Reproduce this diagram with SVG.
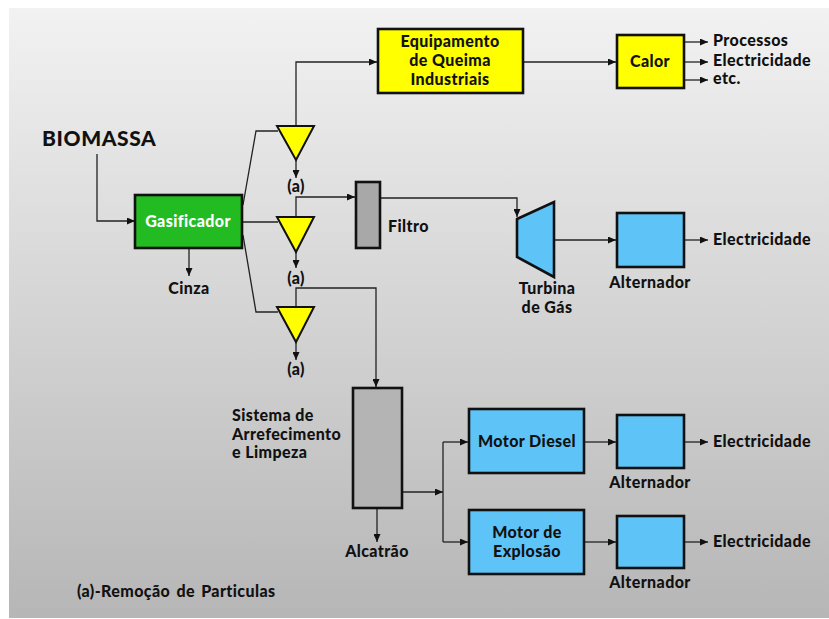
<svg xmlns="http://www.w3.org/2000/svg" width="829" height="619" viewBox="0 0 829 619">
<defs>
<linearGradient id="bg" x1="0" y1="0" x2="0" y2="1">
<stop offset="0" stop-color="#f2f2f2"/>
<stop offset="1" stop-color="#b6b6b6"/>
</linearGradient>
<marker id="arr" markerUnits="userSpaceOnUse" markerWidth="8" markerHeight="7" refX="8" refY="3.5" orient="auto">
<path d="M0,0 L8,3.5 L0,7 z" fill="#111"/>
</marker>
</defs>
<style>
text{font-family:Lato,"Open Sans","DejaVu Sans",sans-serif;font-weight:900;fill:#111;font-size:16px;letter-spacing:0.4px}
.c{text-anchor:middle}
.box{stroke:#111;stroke-width:2.6}
.yel{fill:#ffff00}
.blu{fill:#5ec3f7}
.gry{fill:#a8a8a8}
.tri{fill:#ffff00;stroke:#111;stroke-width:2}
#connectors path{fill:none;stroke:#222;stroke-width:1.3}
.a{marker-end:url(#arr)}
</style>
<rect x="9" y="8" width="820" height="610" fill="url(#bg)"/>

<g id="connectors">
<path class="a" d="M97,154 V221 H135"/>
<path class="a" d="M189,248 V276"/>
<path d="M243,205 L256,131 H278"/>
<path d="M242,222 H278"/>
<path d="M243,235 L256,312 H278"/>
<path class="a" d="M296,159 V178"/>
<path class="a" d="M296,251 V268"/>
<path class="a" d="M296,341 V360"/>
<path class="a" d="M296,126 V62 H377"/>
<path class="a" d="M296,217 V197 H355"/>
<path class="a" d="M296,307 V288 H376 V387"/>
<path class="a" d="M523,62 H616"/>
<path class="a" d="M684,42 H708"/>
<path class="a" d="M684,62 H708"/>
<path class="a" d="M684,80 H708"/>
<path class="a" d="M380,198 H517 V217"/>
<path class="a" d="M554,240 H616"/>
<path class="a" d="M684,240 H708"/>
<path class="a" d="M402,492 H443"/>
<path d="M443,442 V542"/>
<path class="a" d="M443,442 H468"/>
<path class="a" d="M443,542 H468"/>
<path class="a" d="M377,508 V542"/>
<path class="a" d="M584,442 H616"/>
<path class="a" d="M584,542 H616"/>
<path class="a" d="M684,442 H708"/>
<path class="a" d="M684,542 H708"/>
</g>

<g id="biomassa"><text x="42" y="146" style="font-size:21px;letter-spacing:0.6px">BIOMASSA</text></g>

<g id="gasificador">
<rect class="box" x="135" y="195" width="107" height="53" fill="#22bb22"/>
<text class="c" x="188" y="227" style="fill:#ffffff">Gasificador</text>
</g>
<g id="cinza"><text class="c" x="189" y="294">Cinza</text></g>

<g id="sep1"><polygon class="tri" points="277,126 314,126 296,160"/><text class="c" x="296" y="192">(a)</text></g>
<g id="sep2"><polygon class="tri" points="277,217 314,217 296,252"/><text class="c" x="296" y="284">(a)</text></g>
<g id="sep3"><polygon class="tri" points="277,307 314,307 296,342"/><text class="c" x="296" y="375">(a)</text></g>

<g id="equipamento">
<rect class="box yel" x="378" y="29" width="145" height="64"/>
<text class="c" x="450" y="47">Equipamento</text>
<text class="c" x="450" y="66">de Queima</text>
<text class="c" x="450" y="85">Industriais</text>
</g>

<g id="calor">
<rect class="box yel" x="617" y="35" width="67" height="53"/>
<text class="c" x="650" y="67">Calor</text>
</g>
<g id="out-calor">
<text x="713" y="46">Processos</text>
<text x="713" y="66">Electricidade</text>
<text x="713" y="84">etc.</text>
</g>

<g id="filtro">
<rect class="box gry" x="356" y="182" width="24" height="66"/>
<text x="388" y="232">Filtro</text>
</g>

<g id="turbina">
<polygon class="box blu" points="517,219 554,202 554,277 517,257"/>
<text class="c" x="547" y="294">Turbina</text>
<text class="c" x="547" y="313">de Gás</text>
</g>

<g id="alternador1">
<rect class="box blu" x="617" y="213" width="67" height="54"/>
<text class="c" x="650" y="288">Alternador</text>
</g>
<g id="elec1"><text x="713" y="245">Electricidade</text></g>

<g id="sistema">
<rect class="box" x="353" y="388" width="49" height="120" fill="#b4b4b4"/>
<text x="232" y="421">Sistema de</text>
<text x="232" y="440">Arrefecimento</text>
<text x="232" y="458">e Limpeza</text>
</g>
<g id="alcatrao"><text class="c" x="377" y="557">Alcatrão</text></g>

<g id="motor-diesel">
<rect class="box blu" x="469" y="409" width="115" height="64"/>
<text class="c" x="527" y="447">Motor Diesel</text>
</g>
<g id="motor-explosao">
<rect class="box blu" x="469" y="510" width="115" height="64"/>
<text class="c" x="527" y="538">Motor de</text>
<text class="c" x="527" y="557">Explosão</text>
</g>

<g id="alternador2">
<rect class="box blu" x="617" y="415" width="67" height="53"/>
<text class="c" x="650" y="488">Alternador</text>
</g>
<g id="elec2"><text x="713" y="447">Electricidade</text></g>

<g id="alternador3">
<rect class="box blu" x="617" y="516" width="67" height="52"/>
<text class="c" x="650" y="588">Alternador</text>
</g>
<g id="elec3"><text x="713" y="547">Electricidade</text></g>

<g id="legenda"><text x="77" y="597" style="word-spacing:2px">(a)-Remoção de Particulas</text></g>
</svg>
